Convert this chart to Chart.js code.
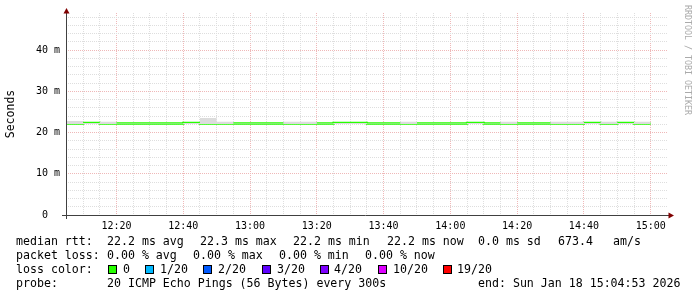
<!DOCTYPE html>
<html>
<head>
<meta charset="utf-8">
<script src="https://cdn.jsdelivr.net/npm/chart.js@4.4.1/dist/chart.umd.min.js"></script>
<style>
    html, body { margin: 0; padding: 0; background: #fff; }
    #wrap { position: relative; width: 697px; height: 297px; overflow: hidden; }
    #chart { position: absolute; left: 0; top: 0; }
    .t { position: absolute; font-family: "DejaVu Sans Mono", monospace; font-size: 11.6px; line-height: 14px; white-space: pre; color: #000; }
    .sq { position: absolute; top: 265px; width: 7px; height: 7px; border: 1px solid #000; }
    #mark { position: absolute; left: 682px; top: 5px; writing-mode: vertical-rl; font-family: "DejaVu Sans Mono", monospace; font-size: 8.3px; line-height: 12px; color: #aaa; white-space: pre; }
</style>
</head>
<body>
<div id="wrap">
    <canvas id="chart" width="697" height="297"></canvas>
    <div id="mark">RRDTOOL / TOBI OETIKER</div>
    <div id="legend"></div>
</div>
<script>
// time window shown (3 hours ending at the probe end time)
var windowStart = '12:04:53';
var windowEnd = '15:04:53';
var firstSlotStart = '12:05';

// 5 minute slots, labelled by the time the slot ends
var slotEnd = ['12:10', '12:15', '12:20', '12:25', '12:30', '12:35', '12:40', '12:45', '12:50', '12:55',
               '13:00', '13:05', '13:10', '13:15', '13:20', '13:25', '13:30', '13:35', '13:40', '13:45',
               '13:50', '13:55', '14:00', '14:05', '14:10', '14:15', '14:20', '14:25', '14:30', '14:35',
               '14:40', '14:45', '14:50', '14:55', '15:00'];

// median rtt in ms
var medianRtt = [22.2, 22.34, 22.2, 22.2, 22.2, 22.2, 22.2, 22.34, 22.2, 22.2,
                 22.2, 22.2, 22.2, 22.2, 22.2, 22.2, 22.34, 22.34, 22.2, 22.2,
                 22.2, 22.2, 22.2, 22.2, 22.34, 22.2, 22.2, 22.2, 22.2, 22.2,
                 22.2, 22.34, 22.2, 22.34, 22.2];

// smoke (spread of the 20 pings) in ms
var smokeMax = [22.83, 22.34, 22.6, 22.2, 22.2, 22.2, 22.2, 22.34, 23.56, 22.6,
                22.2, 22.2, 22.2, 22.6, 22.6, 22.2, 22.34, 22.34, 22.2, 22.2,
                22.6, 22.2, 22.2, 22.2, 22.34, 22.2, 22.6, 22.2, 22.2, 22.6,
                22.6, 22.34, 22.6, 22.34, 22.6];
var smokeMin = [22.1, 22.1, 22.1, 22.1, 22.1, 22.1, 22.1, 22.1, 22.1, 22.1,
                22.1, 22.1, 22.1, 22.1, 22.1, 22.1, 22.1, 22.1, 22.1, 22.1,
                22.1, 22.1, 22.1, 22.1, 22.1, 22.1, 22.1, 22.1, 22.1, 22.1,
                22.1, 22.1, 22.1, 22.1, 22.1];

// axis ticks
var yMax = 49;
var yMinorStep = 2;
var yLabelValues = [0, 10, 20, 30, 40];
var xMinorStep = 5;
var xLabelTimes = ['12:20', '12:40', '13:00', '13:20', '13:40', '14:00', '14:20', '14:40', '15:00'];

// loss colour legend
var lossLabels = ['0', '1/20', '2/20', '3/20', '4/20', '10/20', '19/20'];
var lossColors = ['#26ff00', '#00b8ff', '#0059ff', '#5e00ff', '#7e00ff', '#dd00ff', '#ff0000'];

function toMin(s) {
    var p = s.split(':').map(Number);
    return p[0] * 60 + p[1] + (p[2] || 0) / 60;
}

function fmtMin(v) {
    var h = Math.floor(v / 60), m = Math.round(v % 60);
    return h + ':' + (m < 10 ? '0' : '') + m;
}

function stepData(values) {
    var pts = [{ x: toMin(firstSlotStart), y: values[0] }];
    slotEnd.forEach(function (t, i) { pts.push({ x: toMin(t), y: values[i] }); });
    return pts;
}

var xLabelMins = xLabelTimes.map(toMin);

var axesArrows = {
    id: 'axesArrows',
    afterDatasetsDraw: function (chart) {
        var ctx = chart.ctx, a = chart.chartArea;
        ctx.save();
        ctx.strokeStyle = '#404040';
        ctx.lineWidth = 1;
        ctx.beginPath();
        ctx.moveTo(a.left - 4, a.bottom + 0.5);
        ctx.lineTo(a.right + 2, a.bottom + 0.5);
        ctx.moveTo(a.left + 0.5, a.bottom + 4);
        ctx.lineTo(a.left + 0.5, a.top - 1);
        ctx.stroke();
        ctx.fillStyle = '#800000';
        ctx.beginPath();
        ctx.moveTo(a.left + 0.5, a.top - 5);
        ctx.lineTo(a.left - 2.5, a.top + 0.5);
        ctx.lineTo(a.left + 3.5, a.top + 0.5);
        ctx.closePath();
        ctx.fill();
        ctx.beginPath();
        ctx.moveTo(a.right + 7, a.bottom + 0.5);
        ctx.lineTo(a.right + 1.5, a.bottom - 2.5);
        ctx.lineTo(a.right + 1.5, a.bottom + 3.5);
        ctx.closePath();
        ctx.fill();
        ctx.restore();
    }
};

Chart.defaults.color = '#000';
Chart.defaults.font.family = '"DejaVu Sans Mono", monospace';

var minorGrid = '#dedede';
var majorGrid = '#efb8b8';

var ctx = document.getElementById('chart').getContext('2d');
var smokeChart = new Chart(ctx, {
    type: 'line',
    data: {
        datasets: [
            {
                label: 'smoke low',
                data: stepData(smokeMin),
                stepped: 'after',
                borderWidth: 0,
                pointRadius: 0,
                fill: false
            },
            {
                label: 'smoke high',
                data: stepData(smokeMax),
                stepped: 'after',
                borderWidth: 0,
                pointRadius: 0,
                backgroundColor: '#dcdcdc',
                fill: '-1'
            },
            {
                label: 'median rtt',
                data: stepData(medianRtt),
                stepped: 'after',
                borderColor: '#26ff00',
                borderWidth: 2.4,
                pointRadius: 0,
                fill: false
            }
        ]
    },
    options: {
        responsive: false,
        animation: false,
        devicePixelRatio: 1,
        layout: { padding: { left: 0, top: 13, right: 30, bottom: 0 } },
        plugins: { legend: { display: false }, tooltip: { enabled: false } },
        scales: {
            x: {
                type: 'linear',
                min: toMin(windowStart),
                max: toMin(windowEnd),
                afterBuildTicks: function (scale) {
                    var ticks = [];
                    for (var v = Math.ceil(scale.min / xMinorStep) * xMinorStep; v <= scale.max; v += xMinorStep) {
                        ticks.push({ value: v });
                    }
                    scale.ticks = ticks;
                },
                afterFit: function (scale) { scale.height = 82; },
                ticks: {
                    autoSkip: false,
                    maxRotation: 0,
                    padding: 5,
                    font: { size: 10 },
                    callback: function (v) { return xLabelMins.indexOf(v) >= 0 ? fmtMin(v) : ''; }
                },
                grid: {
                    drawTicks: false,
                    color: function (c) { return c.tick && xLabelMins.indexOf(c.tick.value) >= 0 ? majorGrid : minorGrid; }
                },
                border: { display: false, dash: [1, 1] }
            },
            y: {
                min: 0,
                max: yMax,
                afterBuildTicks: function (scale) {
                    var ticks = [];
                    for (var v = 0; v < scale.max; v += yMinorStep) ticks.push({ value: v });
                    scale.ticks = ticks;
                },
                afterFit: function (scale) { scale.width = 66; },
                ticks: {
                    autoSkip: false,
                    padding: 6,
                    font: { size: 10 },
                    callback: function (v) {
                        if (yLabelValues.indexOf(v) < 0) return '';
                        return v === 0 ? '0  ' : v + ' m';
                    }
                },
                grid: {
                    drawTicks: false,
                    color: function (c) { return c.tick && yLabelValues.indexOf(c.tick.value) >= 0 ? majorGrid : minorGrid; }
                },
                border: { display: false, dash: [1, 1] },
                title: { display: true, text: 'Seconds', font: { size: 11.5 } }
            }
        }
    },
    plugins: [axesArrows]
});

// text block under the graph
var legendLines = [
    { top: 234, items: [[16, 'median rtt:'], [107, '22.2 ms avg'], [200, '22.3 ms max'], [293, '22.2 ms min'],
                        [387, '22.2 ms now'], [478, '0.0 ms sd'], [558, '673.4'], [613, 'am/s']] },
    { top: 248, items: [[16, 'packet loss:'], [107, '0.00 % avg'], [193, '0.00 % max'], [279, '0.00 % min'], [365, '0.00 % now']] },
    { top: 262, items: [[16, 'loss color:']] },
    { top: 276, items: [[16, 'probe:'], [107, '20 ICMP Echo Pings (56 Bytes) every 300s'], [478, 'end: Sun Jan 18 15:04:53 2026']] }
];
var lossBoxX = [108, 145, 203, 262, 320, 378, 443];
var lossTextX = [123, 160, 218, 277, 334, 393, 457];

var legend = document.getElementById('legend');
legendLines.forEach(function (line) {
    line.items.forEach(function (it) {
        var d = document.createElement('div');
        d.className = 't';
        d.style.left = it[0] + 'px';
        d.style.top = line.top + 'px';
        d.textContent = it[1];
        legend.appendChild(d);
    });
});
lossLabels.forEach(function (lbl, i) {
    var sq = document.createElement('div');
    sq.className = 'sq';
    sq.style.left = lossBoxX[i] + 'px';
    sq.style.background = lossColors[i];
    legend.appendChild(sq);
    var d = document.createElement('div');
    d.className = 't';
    d.style.left = lossTextX[i] + 'px';
    d.style.top = '262px';
    d.textContent = lbl;
    legend.appendChild(d);
});
</script>
</body>
</html>
